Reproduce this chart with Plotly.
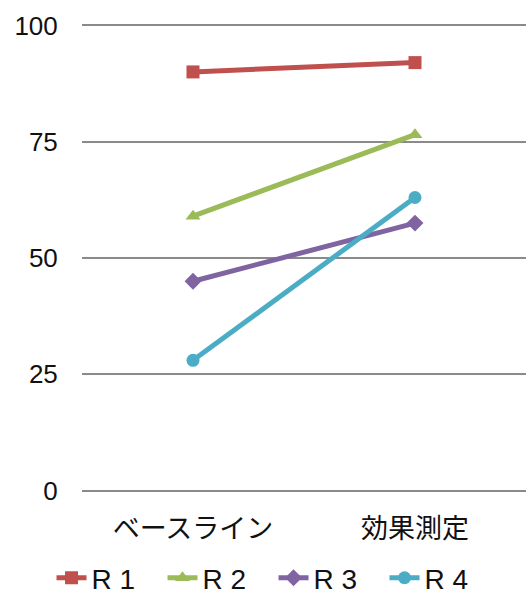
import plotly.graph_objects as go

# Measurement phases on the x axis
phases = ["ベースライン", "効果測定"]

# Scores per participant
r1 = [90, 92]
r2 = [59, 76.5]
r3 = [45, 57.5]
r4 = [28, 63]

series = [
    ("R 1", r1, "#C0504D", "square"),
    ("R 2", r2, "#9BBB59", "triangle-up"),
    ("R 3", r3, "#8064A2", "diamond"),
    ("R 4", r4, "#4BACC6", "circle"),
]

y_ticks = [0, 25, 50, 75, 100]

fig = go.Figure()
for name, vals, color, symbol in series:
    fig.add_trace(go.Scatter(
        x=phases, y=vals, name=name, mode="lines+markers",
        line=dict(color=color, width=5),
        marker=dict(symbol=symbol, size=13, color=color),
    ))

fig.update_layout(
    width=526, height=604,
    margin=dict(l=82, r=0, t=24, b=112, autoexpand=False),
    paper_bgcolor="white", plot_bgcolor="white",
    font=dict(family="Liberation Sans, Arial, Noto Sans CJK JP", size=26, color="#111111"),
    showlegend=True,
    legend=dict(
        orientation="h", xref="container", x=0.52, xanchor="center",
        yref="container", y=0.043, yanchor="middle",
        font=dict(size=28), itemwidth=30, entrywidth=66, entrywidthmode="pixels",
        traceorder="normal",
    ),
)
fig.update_xaxes(
    type="category", range=[-0.5, 1.5], showgrid=False, zeroline=False, showline=False,
    ticks="outside", ticklen=13, tickcolor="rgba(0,0,0,0)",
    tickfont=dict(family="Noto Sans CJK JP", size=27),
)
fig.update_yaxes(
    range=[-0.3, 100.3], tickvals=y_ticks, showgrid=True,
    gridcolor="#8a8a8a", gridwidth=2, zeroline=False, showline=False,
    ticks="outside", ticklen=18, tickcolor="rgba(0,0,0,0)",
)

fig.write_html("out.html")
